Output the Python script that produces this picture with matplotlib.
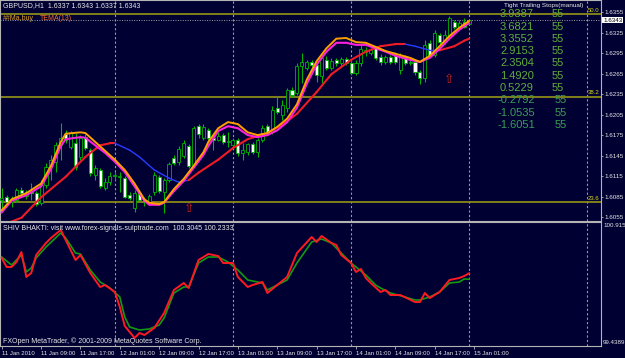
import matplotlib
matplotlib.use('Agg')
import matplotlib.pyplot as plt
from matplotlib.patches import Rectangle

# ---------------- data ----------------
title = "GBPUSD,H1  1.6337 1.6343 1.6337 1.6343"
opens = [1.6080,1.6084,1.6077,1.6080,1.6095,1.6086,1.6092,1.6090,1.6076,1.6102,
         1.6128,1.6136,1.6160,1.6177,1.6158,1.6163,1.6143,1.6172,1.6153,1.6117,
         1.6124,1.6098,1.6106,1.6115,1.6114,1.6112,1.6087,1.6068,1.6090,1.6080,
         1.6077,1.6092,1.6114,1.6092,1.6109,1.6141,1.6136,1.6144,1.6159,1.6131,
         1.6188,1.6171,1.6182,1.6171,1.6168,1.6175,1.6165,1.6160,1.6168,1.6149,
         1.6150,1.6162,1.6150,1.6168,1.6188,1.6179,1.6215,1.6204,1.6215,1.6241,
         1.6237,1.6276,1.6273,1.6282,1.6278,1.6261,1.6285,1.6273,1.6285,1.6280,
         1.6286,1.6280,1.6266,1.6280,1.6297,1.6295,1.6302,1.6289,1.6282,1.6289,
         1.6291,1.6270,1.6289,1.6280,1.6282,1.6267,1.6258,1.6310,1.6292,1.6321,
         1.6311,1.6321,1.6340,1.6333,1.6340,1.6337]
highs = [1.6098,1.6087,1.6086,1.6098,1.6099,1.6095,1.6105,1.6093,1.6109,1.6134,
         1.6146,1.6165,1.6193,1.6182,1.6181,1.6178,1.6175,1.6177,1.6156,1.6131,
         1.6127,1.6112,1.6121,1.6121,1.6121,1.6115,1.6092,1.6095,1.6095,1.6084,
         1.6089,1.6121,1.6117,1.6112,1.6136,1.6146,1.6159,1.6168,1.6162,1.6188,
         1.6191,1.6191,1.6185,1.6175,1.6179,1.6178,1.6179,1.6171,1.6171,1.6163,
         1.6163,1.6165,1.6171,1.6190,1.6191,1.6218,1.6231,1.6226,1.6244,1.6245,
         1.6280,1.6295,1.6285,1.6285,1.6280,1.6292,1.6291,1.6288,1.6288,1.6289,
         1.6289,1.6283,1.6285,1.6307,1.6304,1.6302,1.6305,1.6294,1.6292,1.6292,
         1.6297,1.6295,1.6292,1.6286,1.6285,1.6270,1.6314,1.6314,1.6329,1.6324,
         1.6329,1.6349,1.6343,1.6343,1.6346,1.6343]
lows = [1.6062,1.6073,1.6070,1.6077,1.6087,1.6081,1.6080,1.6071,1.6073,1.6098,
        1.6109,1.6121,1.6139,1.6163,1.6155,1.6124,1.6139,1.6153,1.6115,1.6109,
        1.6098,1.6095,1.6102,1.6109,1.6092,1.6083,1.6080,1.6062,1.6077,1.6071,
        1.6073,1.6087,1.6090,1.6061,1.6106,1.6131,1.6131,1.6141,1.6127,1.6128,
        1.6171,1.6168,1.6165,1.6153,1.6166,1.6162,1.6158,1.6158,1.6144,1.6139,
        1.6146,1.6147,1.6143,1.6165,1.6175,1.6177,1.6206,1.6197,1.6209,1.6231,
        1.6234,1.6251,1.6270,1.6275,1.6253,1.6251,1.6270,1.6270,1.6276,1.6276,
        1.6278,1.6263,1.6263,1.6276,1.6291,1.6292,1.6285,1.6278,1.6279,1.6279,
        1.6279,1.6264,1.6278,1.6278,1.6263,1.6250,1.6253,1.6289,1.6289,1.6308,
        1.6308,1.6318,1.6330,1.6332,1.6332,1.6337]
closes = [1.6083,1.6077,1.6080,1.6095,1.6090,1.6092,1.6090,1.6074,1.6102,1.6128,
          1.6139,1.6160,1.6171,1.6168,1.6178,1.6128,1.6171,1.6156,1.6120,1.6127,
          1.6100,1.6106,1.6115,1.6117,1.6115,1.6084,1.6083,1.6090,1.6080,1.6077,
          1.6086,1.6117,1.6093,1.6109,1.6133,1.6134,1.6155,1.6163,1.6130,1.6185,
          1.6177,1.6187,1.6171,1.6168,1.6174,1.6165,1.6166,1.6168,1.6149,1.6153,
          1.6162,1.6150,1.6168,1.6185,1.6178,1.6212,1.6209,1.6219,1.6241,1.6234,
          1.6276,1.6282,1.6282,1.6278,1.6263,1.6288,1.6273,1.6283,1.6280,1.6286,
          1.6280,1.6266,1.6280,1.6301,1.6299,1.6299,1.6288,1.6282,1.6289,1.6282,
          1.6282,1.6291,1.6280,1.6282,1.6267,1.6258,1.6307,1.6292,1.6324,1.6311,
          1.6321,1.6346,1.6333,1.6339,1.6333,1.6343]

# fast lines (orange, magenta) read at bar indices
fast_idx = [0,2,5,8,10,12,13,16,17,19,21,23,25,27,29,30,32,33,35,37,39,41,42,44,46,
            48,50,52,54,56,58,60,62,64,66,68,70,72,74,76,78,80,83,85,87,89,91,93,95]
orange_val = [1.6065,1.6081,1.6090,1.6104,1.6130,1.6165,1.6177,1.6179,1.6178,1.6165,
              1.6152,1.6139,1.6124,1.6104,1.6081,1.6076,1.6074,1.6077,1.6096,1.6111,
              1.6130,1.6150,1.6165,1.6185,1.6194,1.6191,1.6179,1.6175,1.6178,1.6187,
              1.6199,1.6220,1.6256,1.6283,1.6302,1.6316,1.6317,1.6311,1.6310,1.6304,
              1.6298,1.6294,1.6288,1.6282,1.6291,1.6305,1.6320,1.6332,1.6342]
magenta_val = [1.6062,1.6079,1.6087,1.6100,1.6125,1.6159,1.6169,1.6172,1.6171,1.6160,
               1.6149,1.6136,1.6121,1.6100,1.6079,1.6073,1.6073,1.6076,1.6093,1.6108,
               1.6127,1.6146,1.6159,1.6181,1.6188,1.6185,1.6175,1.6172,1.6175,1.6182,
               1.6194,1.6215,1.6250,1.6278,1.6297,1.6310,1.6310,1.6307,1.6307,1.6302,
               1.6297,1.6291,1.6285,1.6282,1.6288,1.6301,1.6316,1.6329,1.6339]

# slow line (red when rising, blue when falling)
slow_idx = [0,4,8,13,17,20,22,23,26,28,31,34,36,38,40,44,47,50,54,57,60,64,67,71,
            74,77,80,82,84,87,89,92,94,95]
slow_val = [1.6043,1.6054,1.6084,1.6114,1.6143,1.6160,1.6163,1.6163,1.6153,1.6143,
            1.6124,1.6112,1.6106,1.6109,1.6120,1.6139,1.6156,1.6169,1.6178,1.6190,
            1.6206,1.6238,1.6264,1.6285,1.6297,1.6305,1.6308,1.6308,1.6305,1.6299,
            1.6299,1.6305,1.6313,1.6316]
falling_ranges = [(23, 38), (82, 89)]

fib_levels = [1.6352, 1.6231, 1.6077]
fib_labels = ["50.0", "38.2", "23.6"]
bid = 1.6343

price_ticks = [1.6055,1.6085,1.6115,1.6145,1.6175,1.6205,1.6235,1.6265,1.6295,1.6325,1.6355]

stop_values = ["3.9387","3.6821","3.3552","2.9153","2.3504","1.4920","0.5229",
               "-0.2792","-1.0535","-1.6051"]
stop_counts = ["55"]*10

# lower indicator
ind_red_idx = [0,1,2,3,4,5,6,7,9,10,12,13,15,16,18,20,21,23,24,25,27,28,29,31,33,35,37,38,
               40,42,44,45,47,48,50,51,53,54,56,58,60,63,64,65,67,68,69,71,72,73,74,75,77,
               78,79,81,84,85,86,87,89,91,93,94,95]
ind_red = [100.4865,100.3793,100.3793,100.4388,100.5579,100.2603,100.3079,100.5222,100.6650,
           100.7245,100.8198,100.7007,100.4626,100.5222,100.3079,100.1412,100.1650,100.0817,
           99.9032,99.6770,99.5341,99.5937,99.5698,99.6532,99.8317,100.1055,100.1889,100.1293,
           100.4626,100.5341,100.5103,100.4269,100.4269,100.2603,100.1412,100.1650,100.2008,
           100.0698,100.1650,100.2603,100.5460,100.7364,100.6769,100.7483,100.6650,100.6412,
           100.5222,100.4269,100.3198,100.3555,100.2484,100.1889,100.0817,100.1055,100.0460,
           100.0460,99.9627,99.9627,100.0698,100.0103,100.0817,100.2246,100.2484,100.2722,
           100.3045]
ind_green_idx = [0,2,4,5,6,7,9,12,13,15,16,18,20,22,24,25,26,28,30,32,33,35,37,38,40,42,44,
                 46,48,50,53,54,56,58,60,63,65,67,69,71,72,74,76,77,79,82,84,85,87,89,91,93,
                 94,95]
ind_green = [100.4984,100.4031,100.5222,100.3198,100.3674,100.4865,100.6174,100.7841,100.7245,
             100.5460,100.5341,100.3436,100.2008,100.1293,100.0222,99.7841,99.6651,99.6294,
             99.6413,99.6889,99.7722,100.0698,100.1412,100.1412,100.4269,100.4984,100.4984,
             100.4388,100.3436,100.2246,100.1889,100.1055,100.1650,100.2246,100.4269,100.6769,
             100.7126,100.6650,100.5460,100.4269,100.3793,100.2841,100.1650,100.1293,100.0698,
             100.0222,99.9865,99.9865,100.0222,100.0817,100.1889,100.2008,100.2365,100.2333]
ind_top, ind_bottom = 100.915, 99.4389

day_separators = [23, 47, 71, 95, 119]
time_ticks = [0, 8, 16, 24, 32, 40, 48, 56, 64, 72, 80, 88, 96]
time_labels = ["11 Jan 2010","11 Jan 09:00","11 Jan 17:00","12 Jan 01:00","12 Jan 09:00",
               "12 Jan 17:00","13 Jan 01:00","13 Jan 09:00","13 Jan 17:00","14 Jan 01:00",
               "14 Jan 09:00","14 Jan 17:00","15 Jan 01:00"]
arrow_bars = [(38, 1.6077), (91, 1.6266)]

# ---------------- style ----------------
BG = '#000033'
GREEN = '#00b400'
GRID = '#a89c6c'
AXC = '#b4b4b4'
FONT = 'Liberation Sans'
plt.rcParams['font.family'] = [FONT, 'DejaVu Sans']

W, H = 625, 358
fig = plt.figure(figsize=(W/100, H/100), dpi=100, facecolor=BG)
ax = fig.add_axes([0, 137/H, 601/W, 221/H], facecolor=BG)
ax2 = fig.add_axes([0, 12/H, 601/W, 124/H], facecolor=BG)

XL = (-0.35, 121.8)
for a in (ax, ax2):
    a.set_xlim(*XL)
    for s in a.spines.values():
        s.set_color(AXC)
        s.set_linewidth(0.8)
ax.set_ylim(1.60493, 1.63726)
ax2.set_ylim(ind_bottom, ind_top)

# day separators
for a in (ax, ax2):
    for d in day_separators:
        a.axvline(d, color=GRID, lw=0.8, ls=(0, (2, 2)), zorder=1)

# fibo lines
for lv, lb in zip(fib_levels, fib_labels):
    ax.axhline(lv, color='#8a8a18', lw=1.3, zorder=2)
    ax.text(121.5, lv + 0.0002, lb, color='#d8d820', fontsize=4.3, ha='right',
            va='bottom', zorder=6)
ax.axhline(bid, color='#a0a0a0', lw=0.7, ls=(0, (1, 1.5)), zorder=2)

# candles
bw = 0.62
for i, (o, h, l, c) in enumerate(zip(opens, highs, lows, closes)):
    ax.vlines(i, l, h, color=GREEN, lw=0.8, zorder=3)
    lo, hi = min(o, c), max(o, c)
    if hi - lo < 0.00004:
        ax.hlines(o, i - bw/2, i + bw/2, color=GREEN, lw=0.8, zorder=4)
    else:
        fc = 'white' if c < o else BG
        ax.add_patch(Rectangle((i - bw/2, lo), bw, hi - lo, facecolor=fc,
                               edgecolor=GREEN, lw=0.6, zorder=4))

# slow line
def in_falling(k):
    return any(a <= k <= b for a, b in falling_ranges)

for j in range(len(slow_idx) - 1):
    a, b = slow_idx[j], slow_idx[j + 1]
    falling = in_falling(a) and in_falling(b)
    ax.plot([a, b], [slow_val[j], slow_val[j + 1]],
            color='#2a3cff' if falling else '#ee1c24',
            lw=1.0 if falling else 1.5, zorder=5, solid_capstyle='round')

ax.plot(fast_idx, magenta_val, color='#ff22dd', lw=1.5, zorder=6)
ax.plot(fast_idx, orange_val, color='#ffa000', lw=1.4, zorder=6)

for bi, pv in arrow_bars:
    ax.text(bi, pv, '\u21e7', color='#c82020', fontsize=9, ha='center', va='top',
            family='DejaVu Sans', zorder=7)

# price axis
ax.yaxis.tick_right()
ax.set_yticks(price_ticks)
ax.set_yticklabels([f"{p:.4f}" for p in price_ticks])
ax.tick_params(axis='y', colors=AXC, labelcolor='#e6e6e6', labelsize=4.5, length=1.5,
               width=0.6, pad=0.8, direction='out')
ax.set_xticks([])

# lower panel
ax2.plot(ind_green_idx, ind_green, color='#139a13', lw=1.2, zorder=4)
ax2.plot(ind_red_idx, ind_red, color='#ff1a22', lw=1.4, zorder=5)
ax2.set_yticks([])
ax2.set_xticks(time_ticks)
ax2.set_xticklabels(time_labels, ha='left')
ax2.tick_params(axis='x', colors=AXC, labelcolor='#e6e6e6', labelsize=4.3, length=2.5,
                width=0.6, pad=1.2, direction='out')

# texts (pixel positions)
def ftext(x, y, s, **kw):
    fig.text(x / W, 1 - y / H, s, **kw)

ftext(3, 6, title, color='#e8e8e8', fontsize=5, va='center')
ftext(3, 18, "##Ma,buy", color='#e0a020', fontsize=5, va='center')
ftext(40, 18, "TEMA(13)", color='#ff7030', fontsize=5, va='center')
ftext(583, 6, "Tight Trailing Stops(manual)", color='#e8e8e8', fontsize=4.6,
      va='center', ha='right')
ftext(603, 20, "1.6343", color='black', fontsize=4.5, va='center',
      bbox=dict(boxstyle='square,pad=0.15', facecolor='white', edgecolor='none'))

row_y = [14, 26.5, 39, 51.5, 63.5, 76, 88, 100, 112.5, 125]
for k, (v, n) in enumerate(zip(stop_values, stop_counts)):
    neg = v.startswith('-')
    col = '#3a9e55' if neg else '#5fae38'
    xv = 497 if neg else 500
    xn = 555 if neg else 552
    ftext(xv, row_y[k], v, color=col, fontsize=8, va='center')
    ftext(xn, row_y[k], n, color=col, fontsize=8, va='center')

ftext(3, 229, "SHIV BHAKTI: visit www.forex-signals-sulptrade.com  100.3045 100.2333",
      color='#e8e8e8', fontsize=5, va='center')
ftext(3, 341, "FXOpen MetaTrader, \u00a9 2001-2009 MetaQuotes Software Corp.",
      color='#e8e8e8', fontsize=5, va='center')
ftext(603, 226, "100.915", color='#e6e6e6', fontsize=4.5, va='center')
ftext(603, 342, "99.4389", color='#e6e6e6', fontsize=4.5, va='center')

fig.savefig('out.png', dpi=100, facecolor=BG)
